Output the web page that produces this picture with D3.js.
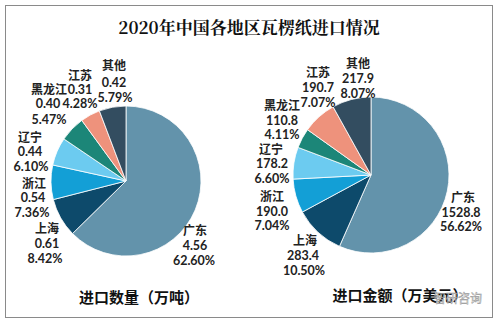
<!DOCTYPE html>
<html><head><meta charset="utf-8">
<script src="https://cdn.jsdelivr.net/npm/d3@7"></script>
<style>body{margin:0;background:#fff}</style>
</head><body>
<svg id="c" width="500" height="326"></svg>
<script>
const regions = ["广东","上海","浙江","辽宁","黑龙江","江苏","其他"];
const qtyValues = [4.56,0.61,0.54,0.44,0.40,0.31,0.42];
const qtyLabels = ["4.56","0.61","0.54","0.44","0.40","0.31","0.42"];
const qtyPct = ["62.60%","8.42%","7.36%","6.10%","5.47%","4.28%","5.79%"];
const amtValues = [1528.8,283.4,190.0,178.2,110.8,190.7,217.9];
const amtLabels = ["1528.8","283.4","190.0","178.2","110.8","190.7","217.9"];
const amtPct = ["56.62%","10.50%","7.04%","6.60%","4.11%","7.07%","8.07%"];
const colors = ["#6393ab","#0d4a6b","#139fd6","#6ccbf0","#1c8678","#ee927c","#334d60"];

const svg = d3.select("#c");
svg.append("rect").attr("x",5.5).attr("y",5.5).attr("width",487).attr("height",312)
  .attr("fill","#fff").attr("stroke","#8a8a8a").attr("stroke-width",1);
svg.append("text").attr("x",249).attr("y",34).attr("text-anchor","middle")
  .attr("font-family","'Noto Serif CJK SC','Noto Sans CJK SC',serif").attr("font-weight","bold")
  .attr("font-size",17).attr("fill","#111").text("2020年中国各地区瓦楞纸进口情况");

const color = d3.scaleOrdinal().domain(regions).range(colors);
const pie = d3.pie().sort(null).value(d=>d.v);
const font = "'Noto Sans CJK SC',sans-serif";
const numFont = "Lato,'Noto Sans CJK SC',sans-serif";

// pos: for each slice, three [x, baselineY, anchor] for name, value, percent
function drawPie(cx, cy, r, values, vlabels, pcts, pos){
  const data = regions.map((n,i)=>({n, v:values[i], l:vlabels[i], p:pcts[i]}));
  const arc = d3.arc().innerRadius(0).outerRadius(r);
  const g = svg.append("g").attr("transform",`translate(${cx},${cy})`);
  g.selectAll("path").data(pie(data)).join("path")
    .attr("d",arc).attr("fill",d=>color(d.data.n)).attr("stroke","#fff").attr("stroke-width",0.8);
  data.forEach((d,i)=>{
    [d.n, d.l, d.p].forEach((s,j)=>{
      const p = pos[i][j];
      svg.append("text").attr("x",p[0]).attr("y",p[1]).attr("text-anchor",p[2]||"middle")
        .attr("font-family",j===0?font:numFont).attr("font-size",j===0?12:12.5).attr("font-weight","bold")
        .attr("fill","#222").text(s);
    });
  });
}

// left pie
drawPie(126,181,75,qtyValues,qtyLabels,qtyPct,[
  [[195,235],[195,250],[194,265]],
  [[47,233],[47,248],[45,263]],
  [[34,188],[33,202],[32,217]],
  [[30,142],[30,156],[31,171]],
  [[67,94,"end"],[48,108],[49,124]],
  [[80,80],[80,94],[80,108]],
  [[114,70],[114,87],[115,102]]
]);

// right pie
drawPie(371,175,78,amtValues,amtLabels,amtPct,[
  [[463,202],[461,217],[461,231]],
  [[305,245],[303,260],[304,275]],
  [[272,201],[272,216],[272,230]],
  [[271,154],[272,168],[272,183]],
  [[282,110],[282,125],[282,139]],
  [[318,77],[318,92],[318,107]],
  [[358,68],[358,83],[358,98]]
]);

svg.append("text").attr("x",139).attr("y",303).attr("text-anchor","middle")
  .attr("font-family",font).attr("font-size",15).attr("font-weight","bold")
  .attr("fill","#111").text("进口数量（万吨）");
svg.append("text").attr("x",400).attr("y",301).attr("text-anchor","middle")
  .attr("font-family",font).attr("font-size",15).attr("font-weight","bold")
  .attr("fill","#111").text("进口金额（万美元）");
svg.append("text").attr("x",458).attr("y",303).attr("text-anchor","middle")
  .attr("font-family",font).attr("font-size",12)
  .attr("fill","#fff").attr("stroke","#888").attr("stroke-width",0.5).attr("opacity",0.9).text("智研咨询");
</script>
</body></html>
